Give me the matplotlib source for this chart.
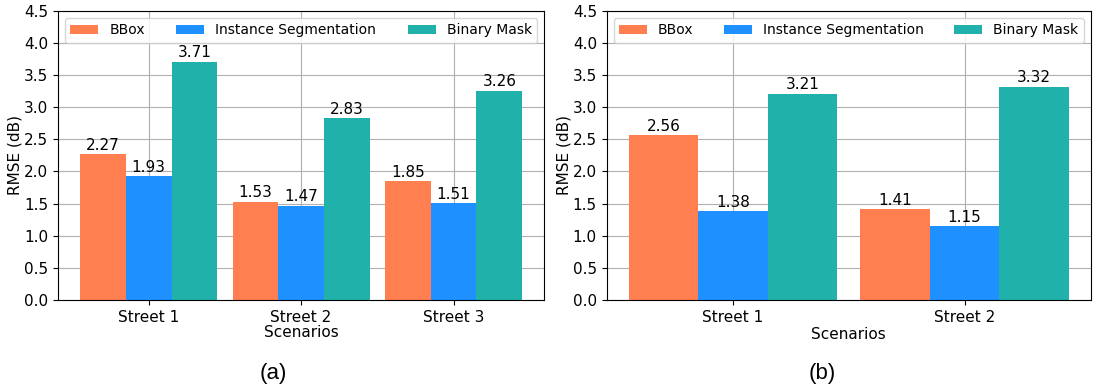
import matplotlib
matplotlib.use('Agg')
import matplotlib.pyplot as plt
import numpy as np

methods = ['BBox', 'Instance Segmentation', 'Binary Mask']
colors = ['coral', 'dodgerblue', 'lightseagreen']

streets_a = ['Street 1', 'Street 2', 'Street 3']
bbox_a = [2.27, 1.53, 1.85]
inst_a = [1.93, 1.47, 1.51]
mask_a = [3.71, 2.83, 3.26]

streets_b = ['Street 1', 'Street 2']
bbox_b = [2.56, 1.41]
inst_b = [1.38, 1.15]
mask_b = [3.21, 3.32]


def draw(ax, streets, series, xlabel_pad):
    x = np.arange(len(streets))
    width = 0.3
    for i, (vals, name, c) in enumerate(zip(series, methods, colors)):
        bars = ax.bar(x + (i - 1) * width, vals, width, label=name, color=c, zorder=2)
        ax.bar_label(bars, fmt='%.2f', fontsize=11, padding=1)
    ax.set_xticks(x)
    ax.set_xticklabels(streets, fontsize=11)
    ax.set_ylim(0, 4.5)
    ax.set_yticks(np.arange(0, 4.51, 0.5))
    ax.tick_params(axis='y', labelsize=11)
    ax.set_ylabel('RMSE (dB)', fontsize=11, labelpad=1)
    ax.set_xlabel('Scenarios', fontsize=11, labelpad=xlabel_pad)
    ax.grid(True, color='#b0b0b0', linewidth=0.8, zorder=0)
    ax.set_axisbelow(True)
    ax.legend(loc='upper left', mode='expand', ncol=3, fontsize=10,
              bbox_to_anchor=(0, 0, 1, 1), borderaxespad=0.5)


fig = plt.figure(figsize=(10.93, 3.89), dpi=100)
ax1 = fig.add_axes([0.053, 0.229, 0.445, 0.743])
ax2 = fig.add_axes([0.555, 0.229, 0.443, 0.743])

draw(ax1, streets_a, [bbox_a, inst_a, mask_a], 0)
draw(ax2, streets_b, [bbox_b, inst_b, mask_b], 2)

fig.text(0.25, 0.026, '(a)', ha='center', fontsize=16, family='Liberation Sans')
fig.text(0.752, 0.026, '(b)', ha='center', fontsize=16, family='Liberation Sans')

fig.savefig('out.png', dpi=100)
